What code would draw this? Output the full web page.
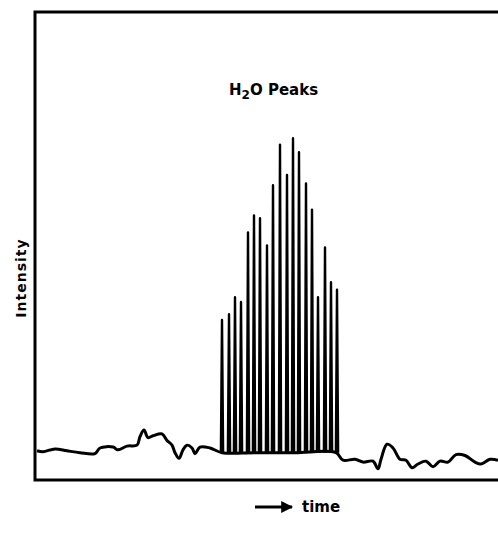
<!DOCTYPE html>
<html lang="en">
  <head>
    <meta charset="UTF-8" />
    <title>H2O Peaks</title>
    <script src="https://cdn.jsdelivr.net/npm/d3@7"></script>
    <style>
      body {
        margin: 0;
        background: #fff;
      }
      svg {
        display: block;
      }
    </style>
  </head>

  <body>
    <div id="svg"></div>
    <script>
      // trace data: time (arbitrary units), intensity (arbitrary units)
      const baseTime = [2, 8, 20, 32, 45, 60, 65, 78, 83, 92, 102, 105, 109, 113, 118, 127, 132, 137, 140, 144, 148, 152, 157, 160, 165, 175, 187, 220, 260, 301, 308, 320, 328, 338, 343, 346, 352, 358, 365, 371, 377, 383, 391, 398, 405, 413, 421, 430, 440, 446, 455, 463];
      const baseIntensity = [31, 30, 33, 31, 29, 28, 34, 35, 32, 36, 37, 46, 53, 45, 47, 49, 42, 37, 29, 23, 32, 37, 34, 28, 35, 34, 29, 29, 29, 29, 21, 22, 19, 20, 12, 22, 38, 34, 22, 21, 13, 17, 20, 14, 20, 19, 27, 26, 19, 17, 22, 21];

      // H2O peaks
      const peakTime = [187, 194, 200, 206, 213, 219, 225, 232, 238, 245, 252, 258, 264, 271, 277, 283, 290, 296, 302];
      const peakIntensity = [170, 176, 194, 189, 263, 281, 278, 249, 313, 356, 324, 363, 348, 315, 287, 194, 247, 210, 202];
      const peakBase = 29;

      const width = 498;
      const height = 543;
      const margin = { left: 35, right: 0, top: 12, bottom: 63 };

      const x = d3
        .scaleLinear()
        .domain([0, 463])
        .range([margin.left, width - margin.right]);

      const y = d3
        .scaleLinear()
        .domain([0, 497])
        .range([height - margin.bottom, margin.top]);

      const svg = d3
        .select("#svg")
        .append("svg")
        .attr("width", width)
        .attr("height", height);

      // frame: left, top, bottom
      const frame = d3.path();
      frame.moveTo(x(463), y(497));
      frame.lineTo(x(0), y(497));
      frame.lineTo(x(0), y(0));
      frame.lineTo(x(463), y(0));
      svg
        .append("path")
        .attr("d", frame.toString())
        .attr("fill", "none")
        .attr("stroke", "#000")
        .attr("stroke-width", 3);

      // baseline trace
      const line = d3
        .line()
        .x((d) => x(d[0]))
        .y((d) => y(d[1]))
        .curve(d3.curveCatmullRom);

      svg
        .append("path")
        .attr("d", line(d3.zip(baseTime, baseIntensity)))
        .attr("fill", "none")
        .attr("stroke", "#000")
        .attr("stroke-width", 3)
        .attr("stroke-linejoin", "round");

      // peaks
      const spike = d3
        .line()
        .x((d) => x(d[0]))
        .y((d) => y(d[1]));

      svg
        .selectAll(".peak")
        .data(d3.zip(peakTime, peakIntensity))
        .enter()
        .append("path")
        .attr("class", "peak")
        .attr("d", (d) =>
          spike([
            [d[0] - 1.1, peakBase],
            [d[0], d[1]],
            [d[0] + 1.1, peakBase],
          ])
        )
        .attr("fill", "none")
        .attr("stroke", "#000")
        .attr("stroke-width", 2.4)
        .attr("stroke-linejoin", "round");

      // title
      const title = svg
        .append("text")
        .attr("x", 229)
        .attr("y", 95)
        .attr("font-family", "DejaVu Sans")
        .attr("font-weight", "bold")
        .attr("font-size", 15)
        .attr("fill", "#000");
      title.append("tspan").text("H");
      title.append("tspan").attr("dy", 4).attr("font-size", 12).text("2");
      title.append("tspan").attr("dy", -4).text("O Peaks");

      // y label
      svg
        .append("text")
        .attr("transform", "translate(26,278) rotate(-90)")
        .attr("text-anchor", "middle")
        .attr("font-family", "DejaVu Sans")
        .attr("font-weight", "bold")
        .attr("font-size", 14)
        .attr("letter-spacing", 1)
        .text("Intensity");

      // time arrow
      svg
        .append("defs")
        .append("marker")
        .attr("id", "arrow")
        .attr("viewBox", "0 0 10 10")
        .attr("refX", 9)
        .attr("refY", 5)
        .attr("markerWidth", 4)
        .attr("markerHeight", 4)
        .attr("orient", "auto")
        .append("path")
        .attr("d", "M0,0L10,5L0,10z")
        .attr("fill", "#000");

      svg
        .append("line")
        .attr("x1", 255)
        .attr("x2", 292)
        .attr("y1", 507)
        .attr("y2", 507)
        .attr("stroke", "#000")
        .attr("stroke-width", 3)
        .attr("marker-end", "url(#arrow)");

      svg
        .append("text")
        .attr("x", 302)
        .attr("y", 512)
        .attr("font-family", "DejaVu Sans")
        .attr("font-weight", "bold")
        .attr("font-size", 15)
        .text("time");
    </script>
  </body>
</html>
